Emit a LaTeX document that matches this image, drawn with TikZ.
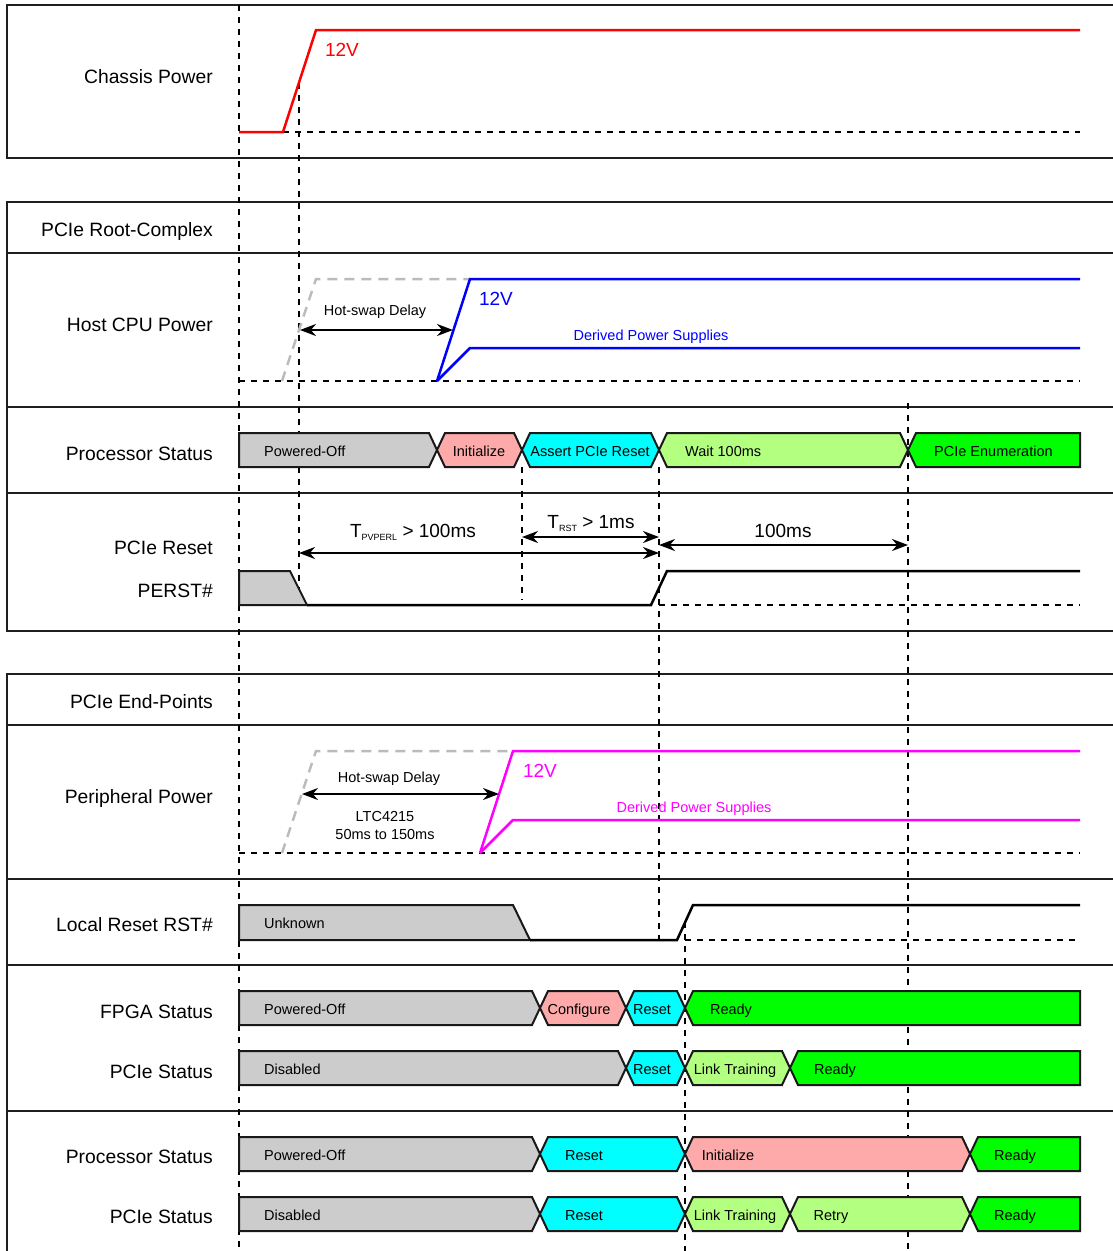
\documentclass[tikz,border=0pt]{standalone}
\usepackage{fontspec}
\setmainfont{Liberation Sans}
\usetikzlibrary{arrows.meta}
\definecolor{cgray}{HTML}{CCCCCC}
\definecolor{csalmon}{HTML}{FFAAAA}
\definecolor{ccyan}{HTML}{00FFFF}
\definecolor{clgreen}{HTML}{B3FF80}
\definecolor{cgreen}{HTML}{00FF00}
\definecolor{cghost}{HTML}{BBBBBB}
\definecolor{cred}{HTML}{FF0000}
\definecolor{cblue}{HTML}{0000FF}
\definecolor{cmag}{HTML}{FF00FF}
\tikzset{
  frame/.style={line width=2pt, draw=black!88},
  guide/.style={line width=1.5pt, dash pattern=on 6pt off 6pt},
  ghost/.style={line width=2.5pt, draw=cghost, dash pattern=on 10pt off 7pt},
  sig/.style={line width=2.5pt, line join=miter},
  stbox/.style={line width=2pt, draw=black!90, line join=miter},
  biglbl/.style={font=\fontsize{19.3}{22}\selectfont, anchor=mid east, inner sep=0pt, yshift=-3pt},
  midlbl/.style={font=\fontsize{19}{22}\selectfont, inner sep=0pt, anchor=mid, yshift=-4pt},
  smalltxt/.style={font=\fontsize{14.5}{17}\selectfont, inner sep=0pt, anchor=mid, yshift=-2.5pt},
  smallw/.style={smalltxt, anchor=mid west},
  dimarrow/.style={line width=2pt, {Stealth[length=16pt,width=12pt]}-{Stealth[length=16pt,width=12pt]}},
}
% state boxes: #1 start x, #2 end x, #3 top y, #4 fill
\newcommand\bLX[4]{\filldraw[stbox,fill=#4] (#1,#3) -- ({#2-8},#3) -- (#2,{#3+17}) -- ({#2-8},{#3+34}) -- (#1,{#3+34}) -- cycle;}
\newcommand\bXX[4]{\filldraw[stbox,fill=#4] (#1,{#3+17}) -- ({#1+8},#3) -- ({#2-8},#3) -- (#2,{#3+17}) -- ({#2-8},{#3+34}) -- ({#1+8},{#3+34}) -- cycle;}
\newcommand\bXR[4]{\filldraw[stbox,fill=#4] (#1,{#3+17}) -- ({#1+8},#3) -- (#2,#3) -- (#2,{#3+34}) -- ({#1+8},{#3+34}) -- cycle;}
\begin{document}
\begin{tikzpicture}[x=1pt,y=-1pt]
\useasboundingbox (0,0) rectangle (1113,1251);
\fill[white] (0,0) rectangle (1113,1251);

% ---------- frames ----------
\draw[frame] (1113,5) -- (7,5) -- (7,158) -- (1113,158);
\draw[frame] (1113,202) -- (7,202) -- (7,631) -- (1113,631);
\draw[frame] (7,253) -- (1113,253);
\draw[frame] (7,407) -- (1113,407);
\draw[frame] (7,493) -- (1113,493);
\draw[frame] (1113,674) -- (7,674) -- (7,1251);
\draw[frame] (7,725) -- (1113,725);
\draw[frame] (7,879) -- (1113,879);
\draw[frame] (7,965) -- (1113,965);
\draw[frame] (7,1111) -- (1113,1111);

% ---------- row labels ----------
\node[biglbl] (lchassis) at (213,78) {Chassis Power};
\node[biglbl] (lroot) at (213,231) {PCIe Root-Complex};
\node[biglbl] (lhost) at (213,326) {Host CPU Power};
\node[biglbl] (lproc1) at (213,455) {Processor Status};
\node[biglbl] (lreset) at (213,549) {PCIe Reset};
\node[biglbl] (lperst) at (213,592) {PERST\#};
\node[biglbl] (lend) at (213,703) {PCIe End-Points};
\node[biglbl] (lperiph) at (213,798) {Peripheral Power};
\node[biglbl] (llocal) at (213,926) {Local Reset RST\#};
\node[biglbl] (lfpga) at (213,1013) {FPGA Status};
\node[biglbl] (lpcie1) at (213,1073) {PCIe Status};
\node[biglbl] (lproc2) at (213,1158) {Processor Status};
\node[biglbl] (lpcie2) at (213,1218) {PCIe Status};

% ---------- vertical guide lines ----------
\coordinate (g0t) at (239,5);   \coordinate (g0b) at (239,1251);
\coordinate (g1t) at (299,83);  \coordinate (g1b) at (299,590);
\coordinate (g2t) at (522,467); \coordinate (g2b) at (522,600);
\coordinate (g3t) at (659,467); \coordinate (g3b) at (659,940);
\coordinate (g4t) at (685,922); \coordinate (g4b) at (685,1251);
\coordinate (g5t) at (908,403); \coordinate (g5b) at (908,1251);
\foreach \g in {0,...,5} \draw[guide] (g\g t) -- (g\g b);

% ---------- Chassis power ----------
\draw[guide] (283,132) -- (1080,132);
\draw[sig,cred] (239,132) -- (283,132) -- (316,30) -- (1080,30);
\node[midlbl,text=cred] (v12a) at (342,50) {12V};

% ---------- Host CPU power ----------
\draw[guide] (239,381) -- (1080,381);
\draw[ghost] (282,381) -- (316,279) -- (470,279);
\draw[sig,cblue] (437,381) -- (470,279) -- (1080,279);
\draw[sig,cblue] (437,381) -- (470,348) -- (1080,348);
\node[midlbl,text=cblue] (v12b) at (496,299) {12V};
\node[smalltxt,text=cblue] (dpsb) at (651,335) {Derived Power Supplies};
\node[smalltxt] (hsd1) at (375,310) {Hot-swap Delay};
\coordinate (hs1a) at (300,330); \coordinate (hs1b) at (453,330);
\draw[dimarrow] (hs1a) -- (hs1b);

% ---------- Processor status (root complex) ----------
\bLX{239}{437}{433}{cgray}
\bXX{437}{522}{433}{csalmon}
\bXX{522}{659}{433}{ccyan}
\bXX{659}{908}{433}{clgreen}
\bXR{908}{1080}{433}{cgreen}
\node[smallw] (rp1) at (264,451) {Powered-Off};
\node[smalltxt] (rp2) at (479,451) {Initialize};
\node[smalltxt] (rp3) at (590,451) {Assert PCIe Reset};
\node[smallw] (rp4) at (685,451) {Wait 100ms};
\node[smallw] (rp5) at (934,451) {PCIe Enumeration};

% ---------- PCIe reset / PERST# ----------
\filldraw[stbox,fill=cgray] (239,571) -- (290,571) -- (307,605) -- (239,605) -- cycle;
\draw[guide] (659,605) -- (1080,605);
\draw[sig] (307,605) -- (651,605) -- (667,571) -- (1080,571);
\coordinate (tpa) at (299,553); \coordinate (tpb) at (659,553);
\coordinate (tra) at (522,537); \coordinate (trb) at (659,537);
\coordinate (t1a) at (659,545); \coordinate (t1b) at (908,545);
\draw[dimarrow] (tpa) -- (tpb);
\draw[dimarrow] (tra) -- (trb);
\draw[dimarrow] (t1a) -- (t1b);
\node[midlbl] (tpv) at (413,531) {T\raisebox{-3pt}{\fontsize{9}{9}\selectfont PVPERL}~> 100ms};
\node[midlbl] (trst) at (591,522) {T\raisebox{-3pt}{\fontsize{9}{9}\selectfont RST}~> 1ms};
\node[midlbl] (t100) at (783,531) {100ms};

% ---------- Peripheral power ----------
\draw[guide] (239,853) -- (1080,853);
\draw[ghost] (282,853) -- (316,751) -- (513,751);
\draw[sig,cmag] (480,853) -- (513,751) -- (1080,751);
\draw[sig,cmag] (480,853) -- (513,820) -- (1080,820);
\node[midlbl,text=cmag] (v12c) at (540,771) {12V};
\node[smalltxt,text=cmag] (dpsc) at (694,807) {Derived Power Supplies};
\node[smalltxt] (hsd2) at (389,777) {Hot-swap Delay};
\node[smalltxt] (ltc) at (385,816) {LTC4215};
\node[smalltxt] (ltcr) at (385,834) {50ms to 150ms};
\coordinate (hs2a) at (302,794); \coordinate (hs2b) at (499,794);
\draw[dimarrow] (hs2a) -- (hs2b);

% ---------- Local reset ----------
\filldraw[stbox,fill=cgray] (239,905) -- (513,905) -- (530,940) -- (239,940) -- cycle;
\draw[guide] (685,940) -- (1080,940);
\draw[sig] (530,940) -- (677,940) -- (693,905) -- (1080,905);
\node[smallw] (unk) at (264,923) {Unknown};

% ---------- FPGA status ----------
\bLX{239}{540}{991}{cgray}
\bXX{540}{626}{991}{csalmon}
\bXX{626}{685}{991}{ccyan}
\bXR{685}{1080}{991}{cgreen}
\node[smallw] (f1) at (264,1009) {Powered-Off};
\node[smalltxt] (f2) at (579,1009) {Configure};
\node[smalltxt] (f3) at (652,1009) {Reset};
\node[smalltxt] (f4) at (731,1009) {Ready};

% ---------- PCIe status (1) ----------
\bLX{239}{626}{1051}{cgray}
\bXX{626}{685}{1051}{ccyan}
\bXX{685}{790}{1051}{clgreen}
\bXR{790}{1080}{1051}{cgreen}
\node[smallw] (p1) at (264,1069) {Disabled};
\node[smalltxt] (p2) at (652,1069) {Reset};
\node[smalltxt] (p3) at (735,1069) {Link Training};
\node[smalltxt] (p4) at (835,1069) {Ready};

% ---------- Processor status (2) ----------
\bLX{239}{540}{1137}{cgray}
\bXX{540}{685}{1137}{ccyan}
\bXX{685}{970}{1137}{csalmon}
\bXR{970}{1080}{1137}{cgreen}
\node[smallw] (q1) at (264,1155) {Powered-Off};
\node[smalltxt] (q2) at (584,1155) {Reset};
\node[smalltxt] (q3) at (728,1155) {Initialize};
\node[smalltxt] (q4) at (1015,1155) {Ready};

% ---------- PCIe status (2) ----------
\bLX{239}{540}{1197}{cgray}
\bXX{540}{685}{1197}{ccyan}
\bXX{685}{790}{1197}{clgreen}
\bXX{790}{970}{1197}{clgreen}
\bXR{970}{1080}{1197}{cgreen}
\node[smallw] (s1) at (264,1215) {Disabled};
\node[smalltxt] (s2) at (584,1215) {Reset};
\node[smalltxt] (s3) at (735,1215) {Link Training};
\node[smalltxt] (s4) at (831,1215) {Retry};
\node[smalltxt] (s5) at (1015,1215) {Ready};
\end{tikzpicture}
\end{document}
